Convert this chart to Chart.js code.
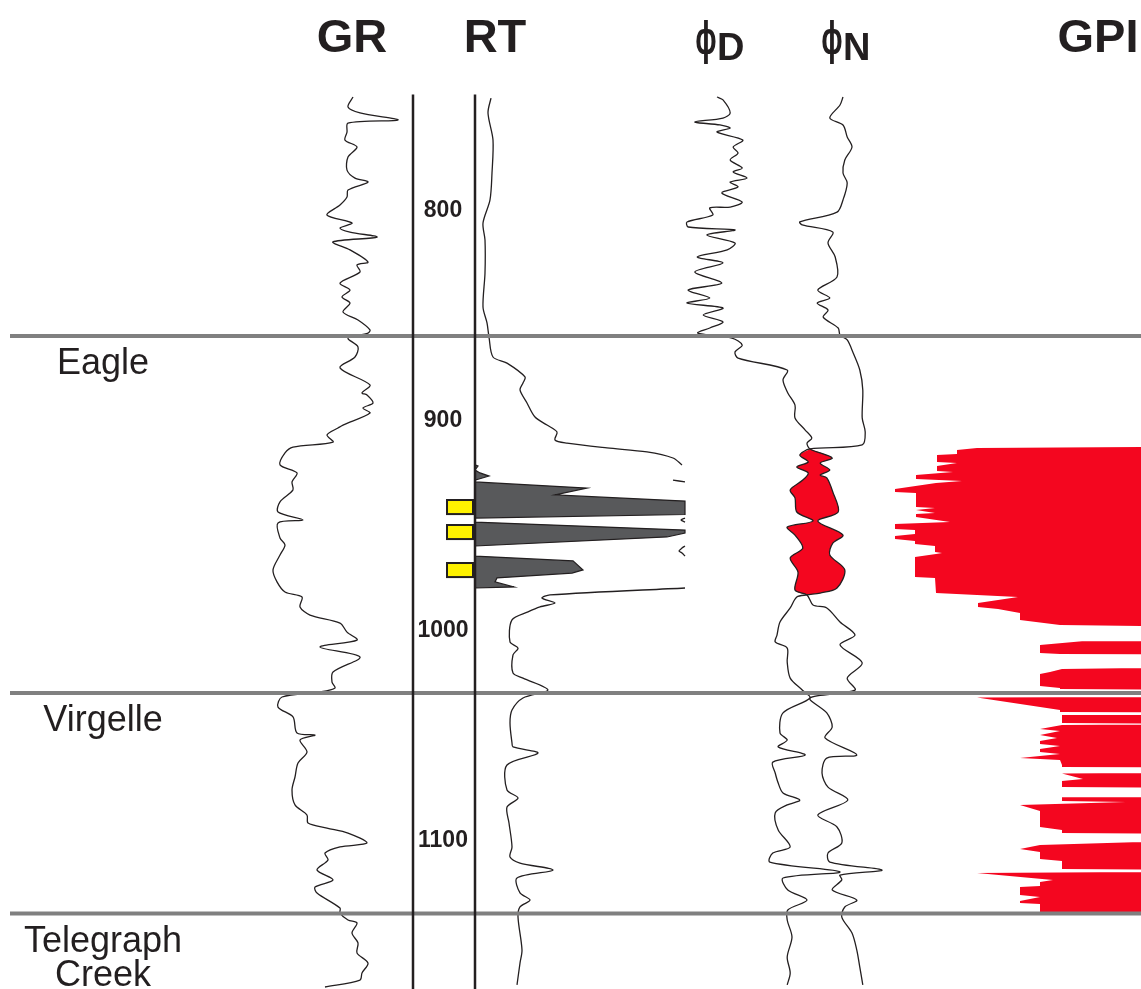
<!DOCTYPE html>
<html>
<head>
<meta charset="utf-8">
<script src="https://cdn.jsdelivr.net/npm/chart.js@4.4.1/dist/chart.umd.min.js"></script>
<style>
  html, body { margin: 0; padding: 0; background: #fff; }
  #wrap { width: 1141px; height: 989px; position: relative; }
</style>
</head>
<body>
<div id="wrap"><canvas id="logChart"></canvas></div>
<script>
// ---- log data (depth, curve value) ----
var grDepth = [746.2,751.0,753.8,757.1,758.6,762.9,766.7,770.0,774.8,781.0,
  784.8,786.7,790.5,793.8,797.6,802.4,806.2,808.6,810.5,812.9,
  815.2,819.0,824.8,826.2,829.5,834.8,838.1,841.4,844.3,848.6,
  852.4,857.1,858.6,861.0,865.2,870.0,875.2,883.3,887.1,888.1,
  891.9,894.3,896.7,902.4,903.8,907.1,910.5,912.9,915.7,921.4,
  925.2,929.5,933.3,939.0,943.8,947.6,949.0,956.2,959.5,964.3,
  971.4,977.1,981.9,984.3,989.0,992.9,996.7,1001.0,1004.8,1008.1,
  1012.9,1020.0,1024.8,1027.6,1029.5,1031.9,1036.7,1041.4,1049.0,1050.0,
  1052.4,1058.1,1063.3,1070.0,1076.2,1083.3,1088.1,1091.9,1094.3,1096.7,
  1101.4,1103.3,1106.2,1109.5,1114.3,1119.0,1122.4,1125.2,1132.4,1134.8,
  1138.1,1139.5,1144.3,1149.0,1153.8,1158.6,1163.3,1166.7,1170.0];
var grApi = [103,98,110,148,98,97,95,107,98,97,
  105,118,98,97,90,77,102,90,100,127,
  83,100,118,107,110,90,100,92,100,93,
  108,120,118,98,108,105,90,120,112,117,
  123,113,120,93,88,77,83,43,35,30,
  47,42,43,30,28,53,28,30,35,30,
  23,27,35,52,50,60,90,97,107,70,
  110,83,82,85,70,32,28,43,47,65,
  50,57,48,45,42,45,57,58,77,98,
  117,90,75,78,67,83,65,67,90,90,
  98,107,102,108,107,118,112,110,75];

var rtDepth = [746.7,753.8,766.7,782.4,795.2,806.2,814.3,830.0,846.2,853.8,
  860.5,870.0,872.9,879.5,882.4,885.7,891.9,898.6,902.4,905.7,
  909.5,911.0,913.3,915.2,918.1,921.4,921.9,923.8,925.2,926.7,
  928.1,928.6,929.5,932.4,935.7,938.6,940.5,944.3,945.0,946.7,
  947.6,948.6,952.4,953.8,955.7,960.0,961.0,962.4,963.3,964.8,
  967.1,971.4,972.9,975.2,977.1,979.5,980.0,983.3,984.8,987.1,
  989.0,991.4,995.2,1005.7,1008.6,1011.9,1020.5,1022.9,1028.6,1032.4,
  1038.1,1044.3,1053.8,1055.7,1058.6,1064.3,1076.2,1080.0,1084.3,1091.9,
  1103.3,1108.1,1111.0,1114.3,1118.1,1125.2,1128.6,1131.9,1136.7,1152.4,
  1158.6,1169.0];
var rtOhm = [1.6,1.3,1.8,1.7,1.5,0.8,1.0,1.0,0.8,1.2,
  1.4,1.8,3.2,5.0,4.8,4.5,5.2,6.0,7.2,8.2,
  8.0,9.2,13.2,17.2,19.8,20.7,21.3,19.6,21.5,22.4,
  21.4,19.8,21.0,32.2,29.0,42,46,46,42,21.0,
  20.6,21.0,42,46,40.2,21.0,20.7,20.4,20.7,21.0,
  30.8,31.8,30.7,23.2,23.0,24.9,21.0,7.5,6.7,8.0,
  6.5,5.3,3.7,3.5,4.3,3.8,3.8,4.8,7.3,4.8,
  3.7,3.5,3.7,3.8,6.3,3.2,3.2,4.3,3.2,3.4,
  3.7,3.5,4.5,7.8,4.2,4.5,5.5,4.5,4.3,4.7,
  4.5,4.2];

var phiDDepth = [746.2,747.6,753.8,756.2,758.1,759.5,761.0,762.9,766.7,770.0,
  772.9,776.2,780.0,781.9,784.8,786.7,789.0,791.9,796.2,798.6,
  799.0,802.4,805.7,808.1,809.5,811.9,815.7,819.0,822.4,825.2,
  829.5,834.8,838.1,841.9,844.3,846.7,850.0,853.3,856.2,858.6,
  861.0,864.3,867.6,870.5,876.2,881.0,887.1,892.9,899.0,904.8,
  908.6,911.0,913.8,918.1,920.5,923.8,926.2,927.6,934.3,943.8,
  948.1,954.8,958.6,964.3,971.4,980.0,982.4,983.3,984.3,989.5,
  996.2,1002.4,1005.7,1008.6,1015.2,1022.9,1028.6,1032.4,1039.5,1049.0,
  1052.4,1055.7,1059.5,1062.9,1068.1,1072.9,1077.6,1081.0,1083.3,1087.1,
  1095.2,1103.3,1106.2,1110.5,1115.2,1118.1,1123.8,1128.6,1133.3,1138.1,
  1146.2,1155.7,1163.3,1169.0];
var phiD = [19.5,20.5,21.7,20.5,15.8,20.0,21.7,19.5,23.8,22.2,
  23.0,21.7,23.7,22.2,24.5,21.7,23.0,20.3,23.7,21.7,
  18.3,18.8,14.5,14.7,22.5,17.8,22.5,21.2,16.2,20.5,
  15.8,20.3,14.7,18.3,14.5,20.5,17.2,20.5,18.3,16.3,
  22.0,23.7,22.5,23.0,31.2,30.5,31.3,32.5,32.5,34.2,
  35.3,34.5,35.0,38.7,36.7,38.3,36.7,37.8,38.8,39.7,
  36.3,40.5,38.8,38.3,40.8,39.5,36.7,34.5,32.8,31.7,
  30.0,29.5,29.2,31.2,31.2,31.7,33.7,35.0,30.5,30.0,
  31.2,29.7,34.2,28.8,29.2,29.7,30.5,33.3,31.2,29.2,
  29.7,31.7,28.8,28.3,40.0,30.5,31.3,34.5,31.3,31.2,
  32.0,31.2,31.7,31.2];

var phiNDepth = [746.2,750.0,756.2,759.5,765.2,770.0,776.2,782.4,787.1,795.2,
  801.0,805.7,807.1,810.5,815.7,822.4,831.9,838.1,841.9,844.3,
  847.6,851.0,856.2,859.5,861.9,868.1,876.2,885.7,899.0,905.7,
  911.9,913.8,916.7,920.0,922.4,925.2,928.6,933.3,937.1,943.8,
  948.1,951.0,954.8,961.0,965.7,972.4,981.0,983.3,988.1,989.5,
  996.2,1002.4,1007.1,1015.7,1022.9,1028.6,1032.4,1039.5,1046.2,1051.4,
  1059.5,1061.0,1068.1,1074.8,1081.0,1088.1,1093.8,1101.4,1106.2,1110.5,
  1114.3,1116.7,1119.0,1123.8,1128.6,1131.9,1136.7,1144.3,1152.4,1160.5,
  1169.0];
var phiN = [40.5,40.0,38.3,40.5,41.2,42.0,40.8,40.5,41.2,40.5,
  39.5,33.3,33.7,38.8,38.0,39.2,39.5,36.3,38.3,36.2,
  38.0,37.2,39.7,40.0,41.2,42.2,43.3,43.8,43.7,44.2,
  43.7,35.0,33.3,34.7,32.8,34.7,33.8,31.7,32.5,32.8,
  35.5,31.2,32.5,33.8,31.7,33.0,32.5,34.5,35.5,37.8,
  40.0,42.5,40.0,43.7,41.2,42.5,35.0,37.8,38.7,37.5,
  42.8,37.8,37.0,38.0,41.3,36.3,39.5,40.3,38.0,38.3,
  47.0,40.0,40.3,38.7,42.8,40.8,40.3,42.0,42.8,43.3,
  43.8];

var gpiDepth = [912.9,913.3,914.3,916.2,916.7,920.0,920.5,921.9,924.3,924.8,
  926.2,928.1,929.0,930.0,932.9,934.3,934.8,941.4,941.9,942.9,
  944.3,944.8,946.2,948.6,949.5,951.9,952.4,954.3,955.2,956.7,
  957.6,959.0,960.0,962.9,963.3,963.8,965.2,974.8,975.2,982.4,
  984.3,987.1,989.0,990.0,991.9,995.2,997.6,998.1,1005.2,1005.4,
  1007.1,1011.0,1011.4,1011.6,1018.1,1018.6,1020.0,1021.0,1026.7,1027.6,
  1028.1,1028.3,1031.9,1032.1,1038.1,1039.0,1039.2,1040.3,1040.5,1044.3,
  1044.5,1045.0,1045.2,1047.1,1048.1,1050.0,1051.4,1052.9,1054.3,1055.2,
  1056.7,1058.1,1059.0,1061.0,1061.9,1064.3,1065.2,1065.4,1068.1,1068.3,
  1071.0,1071.9,1074.8,1075.0,1079.5,1079.7,1081.4,1081.9,1083.3,1086.2,
  1093.8,1095.2,1096.7,1096.9,1101.0,1102.4,1104.3,1105.7,1109.0,1110.0,
  1113.8,1114.0,1115.2,1115.7,1119.0,1120.0,1121.9,1122.4,1126.2,1127.1,
  1129.0,1130.0,1130.5,1134.8,1135.0];
var gpiValue = [0,65.6,73.6,73.6,81.6,81.6,73.6,81.6,81.6,75.2,
  90.0,90.0,71.6,82.0,98.4,98.4,90.0,90.0,82.4,90.0,
  82.4,90.0,90.0,76.4,98.4,98.4,90.4,90.4,98.4,98.4,
  90.4,90.4,82.4,82.4,79.6,82.0,90.4,90.4,82.4,82.0,
  49.2,65.2,65.2,57.2,48.4,48.4,32.4,0,0,23.6,
  40.4,40.4,32.4,0,0,31.6,36.4,40.4,40.4,32.4,
  32.4,0,0,65.6,32.4,32.4,0,0,31.6,31.6,
  0,0,31.6,40.4,32.4,40.4,33.6,40.4,40.4,32.4,
  40.4,40.4,32.4,48.4,32.4,31.6,31.6,0,0,31.6,
  23.2,31.6,31.6,0,0,31.6,31.6,6.0,48.4,40.4,
  40.4,31.6,31.6,0,0,40.4,48.4,40.4,40.4,31.6,
  31.6,0,0,65.6,35.2,40.4,40.4,48.4,48.4,40.4,
  48.4,48.4,40.4,40.4,0];

var gasZone = [913.8, 983.3];             // neutron-density crossover
var perfTop = [938.1, 950.0, 968.1];
var perfBase = [944.8, 956.7, 974.8];
var formationName = ['Eagle', 'Virgelle', 'Telegraph|Creek'];
var formationTop = [860, 1030, 1135];
var depthTicks = [800, 900, 1000, 1100];
var rtTrackMax = 21;                       // ohm-m across the RT track

// ---- layout ----
var W = 1141, H = 989;
var depthTop = 700, pxPerFt = 2.1, logTop = 745;
// pixel = offset + perUnit * value
var tracks = {
  xGR:  { offset: 250, perUnit: 1 },
  xRT:  { offset: 475, perUnit: 10 },
  xPhi: { offset: 600, perUnit: 6 },
  xGPI: { offset: 1141, perUnit: -2.5 }
};
var depthTrackLines = [413, 475];
var perfBox = [447, 473];
var ink = '#231f20', red = '#f4061f';
var smooth = 0.3;

function trackScale(t) {
  var a = -t.offset / t.perUnit, b = (W - t.offset) / t.perUnit;
  return { type: 'linear', display: false, min: Math.min(a, b), max: Math.max(a, b), reverse: t.perUnit < 0 };
}
function pts(depth, vals) {
  return depth.map(function (d, i) { return { y: d, x: vals[i] }; });
}
function inGas(p) { return p.y >= gasZone[0] && p.y <= gasZone[1]; }

var rtMain = rtDepth.map(function (d, i) {
  return { y: d, x: rtOhm[i] <= rtTrackMax ? rtOhm[i] : null };
});
var rtWrap = rtDepth.map(function (d, i) {
  var v = rtOhm[i] - rtTrackMax;
  return { y: d, x: v > 0 ? Math.min(v, rtTrackMax) : 0 };
});

function curve(data, axis, extra) {
  var ds = { data: data, xAxisID: axis, borderColor: ink, borderWidth: 1.3, pointRadius: 0,
    fill: false, tension: smooth, spanGaps: false, order: 1 };
  for (var k in extra) ds[k] = extra[k];
  return ds;
}

var decor = {
  id: 'decor',
  afterDatasetsDraw: function (chart) {
    var ctx = chart.ctx, ys = chart.scales.y;
    ctx.save();
    // formation tops
    formationTop.forEach(function (d, i) {
      var py = ys.getPixelForValue(d);
      ctx.strokeStyle = '#808080'; ctx.lineWidth = 4;
      ctx.beginPath(); ctx.moveTo(10, py); ctx.lineTo(W, py); ctx.stroke();
      ctx.fillStyle = ink; ctx.font = '36px "Liberation Sans", Arial, sans-serif';
      ctx.textAlign = 'center'; ctx.textBaseline = 'alphabetic';
      formationName[i].split('|').forEach(function (s, j) {
        ctx.fillText(s, 103, py + 38 + j * 34);
      });
    });
    // depth track borders
    ctx.strokeStyle = ink; ctx.lineWidth = 2.5;
    depthTrackLines.forEach(function (x) {
      ctx.beginPath(); ctx.moveTo(x, ys.getPixelForValue(logTop)); ctx.lineTo(x, H); ctx.stroke();
    });
    // perforated / tested intervals
    ctx.lineWidth = 2;
    perfTop.forEach(function (d, i) {
      var t = ys.getPixelForValue(d), b = ys.getPixelForValue(perfBase[i]);
      ctx.fillStyle = '#fff200';
      ctx.fillRect(perfBox[0], t, perfBox[1] - perfBox[0], b - t);
      ctx.strokeRect(perfBox[0], t, perfBox[1] - perfBox[0], b - t);
    });
    // depth labels
    ctx.fillStyle = ink; ctx.font = 'bold 23px "Liberation Sans", Arial, sans-serif';
    ctx.textAlign = 'center'; ctx.textBaseline = 'middle';
    depthTicks.forEach(function (d) {
      ctx.fillText(String(d), 443, ys.getPixelForValue(d) + 1);
    });
    // headers
    ctx.textBaseline = 'alphabetic';
    ctx.font = 'bold 47px "Liberation Sans", Arial, sans-serif';
    ctx.fillText('GR', 352, 52);
    ctx.fillText('RT', 495, 52);
    ctx.fillText('GPI', 1098, 52);
    [['D', 706], ['N', 832]].forEach(function (h) {
      ctx.save();
      ctx.translate(h[1], 54);
      ctx.scale(0.62, 1);
      ctx.textAlign = 'center';
      ctx.font = 'bold 46px "Liberation Sans", Arial, sans-serif';
      ctx.fillText('\u03D5', 0, 0);
      ctx.restore();
      ctx.textAlign = 'left';
      ctx.font = 'bold 38px "Liberation Sans", Arial, sans-serif';
      ctx.fillText(h[0], h[1] + 11, 60);
    });
    ctx.restore();
  }
};

var scales = { y: { type: 'linear', display: false, reverse: true, min: depthTop, max: depthTop + H / pxPerFt } };
Object.keys(tracks).forEach(function (k) { scales[k] = trackScale(tracks[k]); });

new Chart(document.getElementById('logChart'), {
  type: 'line',
  data: {
    datasets: [
      curve(pts(gpiDepth, gpiValue), 'xGPI', { fill: 'origin', backgroundColor: red, borderWidth: 0, tension: 0, order: 3 }),
      curve(rtWrap, 'xRT', { fill: 'origin', backgroundColor: '#58595b', borderWidth: 1.2, tension: 0, order: 2 }),
      curve(pts(phiNDepth, phiN).filter(inGas), 'xPhi', { fill: '+1', backgroundColor: red, borderWidth: 0, order: 2 }),
      curve(pts(phiDDepth, phiD).filter(inGas), 'xPhi', { borderWidth: 0, order: 2 }),
      curve(pts(grDepth, grApi), 'xGR'),
      curve(rtMain, 'xRT'),
      curve(pts(phiDDepth, phiD), 'xPhi'),
      curve(pts(phiNDepth, phiN), 'xPhi')
    ]
  },
  options: {
    indexAxis: 'y',
    responsive: true,
    maintainAspectRatio: false,
    animation: false,
    layout: { padding: 0 },
    scales: scales,
    plugins: { legend: { display: false }, tooltip: { enabled: false }, title: { display: false } }
  },
  plugins: [decor]
});
</script>
</body>
</html>
